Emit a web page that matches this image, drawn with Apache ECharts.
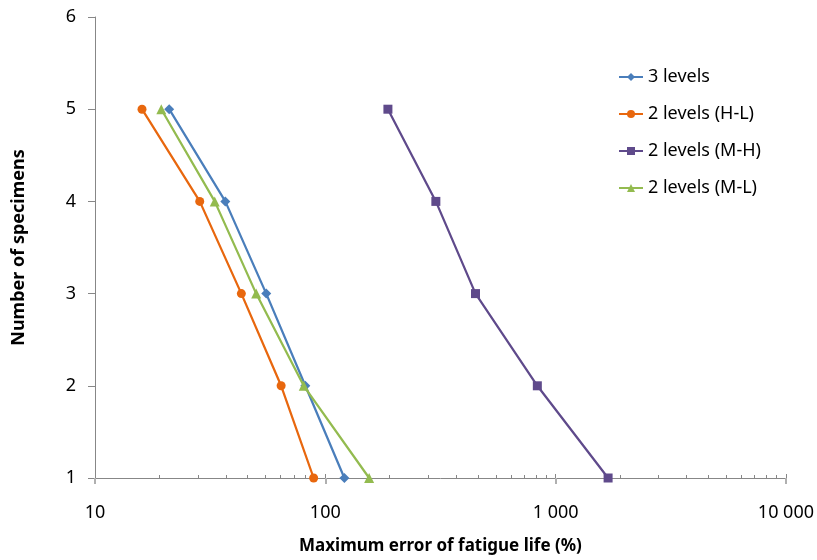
<!DOCTYPE html>
<html>
<head>
<meta charset="utf-8">
<style>
  html, body { margin: 0; padding: 0; background: #fff; }
  #chart { width: 817px; height: 560px; }
</style>
<script src="https://cdn.jsdelivr.net/npm/echarts@6/dist/echarts.min.js"></script>
</head>
<body>
<div id="chart"></div>
<script>
// Number of specimens (y) against maximum fatigue-life error in % (x, log scale)
const specimens = [5, 4, 3, 2, 1];
const seriesNames = ['3 levels', '2 levels (H-L)', '2 levels (M-H)', '2 levels (M-L)'];
const errThreeLevels = [21.0, 36.8, 55.4, 81.9, 121];
const errTwoHL = [16.0, 28.5, 43.2, 64.3, 89];
const errTwoMH = [187, 302, 449, 833, 1690];
const errTwoML = [19.4, 33.1, 50.1, 80.6, 155];
const xTickLabels = { 10: '10', 100: '100', 1000: '1 000', 10000: '10 000' };

const FONT = 'Noto Sans';
const colors = ['#4a7ebb', '#e8670e', '#5f4a8b', '#93bb4f'];
const symbols = ['diamond', 'circle', 'rect', 'triangle'];
const symbolSizes = [10, 9, 9, 10];
const values = [errThreeLevels, errTwoHL, errTwoMH, errTwoML];

const pairs = arr => arr.map((v, i) => [v, specimens[i]]);

const chart = echarts.init(document.getElementById('chart'), null, { renderer: 'canvas' });

chart.setOption({
  animation: false,
  textStyle: { fontFamily: FONT },
  grid: { left: 95, right: 29, top: 17, bottom: 82, containLabel: false },
  legend: {
    orient: 'vertical',
    left: 618,
    top: 68,
    padding: 0,
    itemWidth: 24,
    itemHeight: 10,
    itemGap: 19,
    textStyle: { fontFamily: FONT, fontSize: 18, color: '#000' },
    data: seriesNames
  },
  xAxis: [
    {
      type: 'log',
      logBase: 10,
      min: 10,
      max: 10000,
      name: 'Maximum error of fatigue life (%)',
      nameLocation: 'middle',
      nameGap: 60,
      nameTextStyle: { fontFamily: FONT, fontSize: 17, fontWeight: 'bold', color: '#000' },
      axisLine: { lineStyle: { color: '#878787', width: 1 } },
      axisTick: { show: true, inside: true, length: 4, lineStyle: { color: '#878787' } },
      minorTick: { show: true, splitNumber: 10, length: 3, lineStyle: { color: '#878787' } },
      axisLabel: {
        margin: 26,
        fontFamily: FONT,
        fontSize: 18,
        color: '#000',
        formatter: v => xTickLabels[Math.round(v)] || ''
      },
      splitLine: { show: false }
    },
    {
      // outward half of the major ticks, so they cross the axis line
      type: 'log',
      logBase: 10,
      min: 10,
      max: 10000,
      position: 'bottom',
      axisLine: { show: false },
      axisTick: { show: true, inside: false, length: 6, lineStyle: { color: '#b0b0b0', width: 2 } },
      axisLabel: { show: false },
      splitLine: { show: false }
    }
  ],
  yAxis: {
    type: 'value',
    min: 1,
    max: 6,
    interval: 1,
    name: 'Number of specimens',
    nameLocation: 'middle',
    nameGap: 67,
    nameRotate: 90,
    nameTextStyle: { fontFamily: FONT, fontSize: 18, fontWeight: 'bold', color: '#000' },
    axisLine: { show: true, lineStyle: { color: '#878787', width: 1 } },
    axisTick: { show: true, length: 7, lineStyle: { color: '#878787' } },
    axisLabel: { margin: 19, fontFamily: FONT, fontSize: 18, color: '#000' },
    splitLine: { show: false }
  },
  series: seriesNames.map((name, i) => ({
    name,
    type: 'line',
    xAxisIndex: 0,
    data: pairs(values[i]),
    symbol: symbols[i],
    symbolSize: symbolSizes[i],
    showAllSymbol: true,
    color: colors[i],
    lineStyle: { color: colors[i], width: 2.25 },
    itemStyle: { color: colors[i] },
    z: 3 + i
  }))
});
</script>
</body>
</html>
